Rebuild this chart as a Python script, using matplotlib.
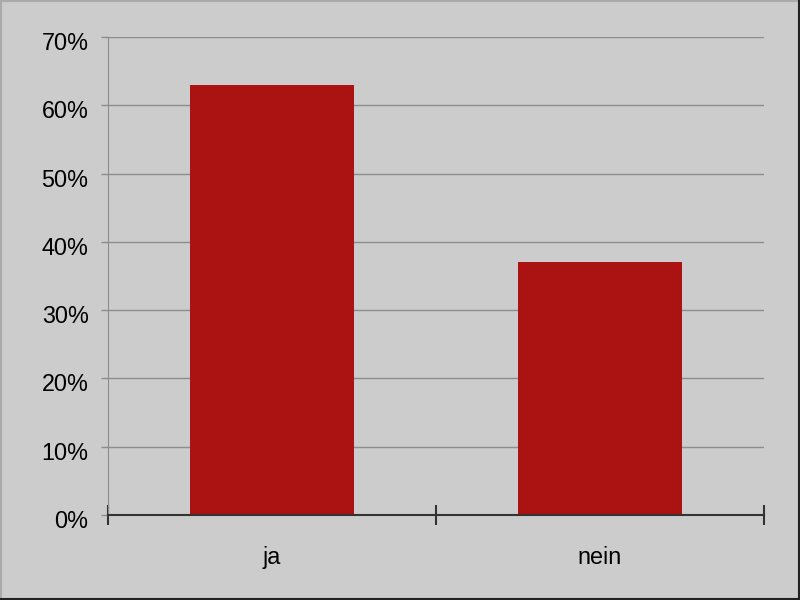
import matplotlib
matplotlib.use("Agg")
import matplotlib.pyplot as plt
from matplotlib.lines import Line2D
from matplotlib.ticker import FuncFormatter, FixedLocator
import matplotlib.transforms as mtransforms

categories = ["ja", "nein"]
values = [63, 37]
yticks = [0, 10, 20, 30, 40, 50, 60, 70]

plt.rcParams['font.family'] = ['Liberation Sans', 'DejaVu Sans']

fig = plt.figure(figsize=(8, 6), dpi=100, facecolor="#cccccc")
ax = fig.add_axes([0.135, 0.1417, 0.82, 0.7966])
ax.set_facecolor("#cccccc")

x = list(range(len(categories)))
ax.bar(x, values, width=0.5, color="#ab1212", zorder=3)

ax.set_xlim(-0.5, len(categories) - 0.5)
ax.set_ylim(0, 70)
ax.set_yticks(yticks)
ax.yaxis.set_major_formatter(FuncFormatter(lambda v, p: f"{int(v)}%"))
ax.yaxis.grid(True, color="#8c8c8c", linewidth=1, zorder=0)

ax.xaxis.set_major_locator(FixedLocator([i - 0.5 for i in range(len(categories) + 1)]))
ax.xaxis.set_minor_locator(FixedLocator(x))
ax.set_xticklabels([], minor=False)
ax.set_xticklabels(categories, minor=True)
ax.tick_params(axis="x", which="major", direction="inout", length=14, width=1.5, color="#333333")
ax.tick_params(axis="x", which="minor", length=0, pad=22, labelsize=16.8, labelcolor="black")
ax.tick_params(axis="y", direction="out", length=5, width=1, color="#8c8c8c", pad=9, labelsize=16.8)

# shift y labels slightly down as in reference
offset = mtransforms.ScaledTranslation(0, -4 / 100, fig.dpi_scale_trans)
for lbl in ax.get_yticklabels():
    lbl.set_transform(lbl.get_transform() + offset)

for s in ["top", "right"]:
    ax.spines[s].set_visible(False)
ax.spines["left"].set_color("#8c8c8c")
ax.spines["bottom"].set_color("#333333")
ax.spines["bottom"].set_linewidth(1.5)
ax.spines["bottom"].set_zorder(4)

# figure border
fig.add_artist(Line2D([0.001, 0.999], [0.999, 0.999], color="#aaaaaa", lw=1.5, transform=fig.transFigure))
fig.add_artist(Line2D([0.001, 0.001], [0.001, 0.999], color="#aaaaaa", lw=1.5, transform=fig.transFigure))
fig.add_artist(Line2D([0.001, 0.999], [0.001, 0.001], color="#222222", lw=1.5, transform=fig.transFigure))
fig.add_artist(Line2D([0.999, 0.999], [0.001, 0.999], color="#222222", lw=1.5, transform=fig.transFigure))

fig.savefig("out.png", dpi=100, facecolor=fig.get_facecolor())
